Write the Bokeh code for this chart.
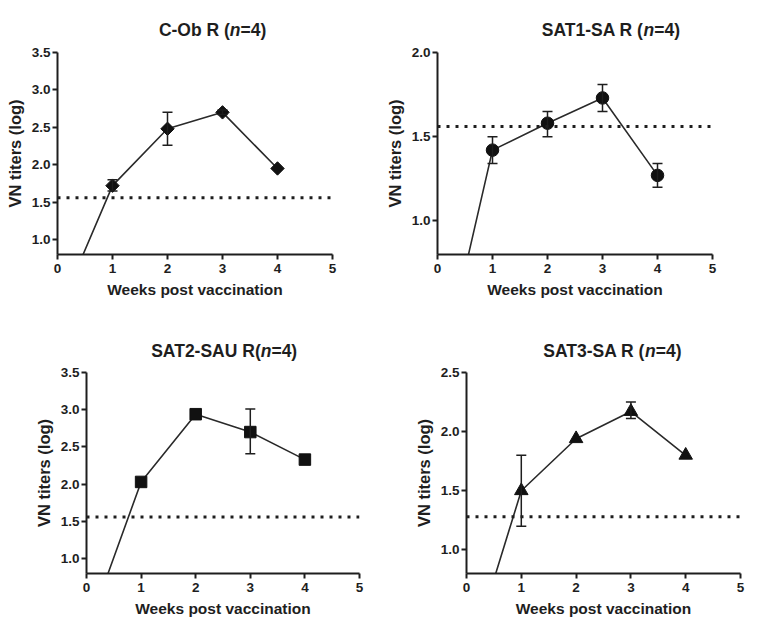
from bokeh.plotting import figure
from bokeh.models import (ColumnDataSource, Whisker, TeeHead, Span, Range1d,
                          PrintfTickFormatter)
from bokeh.core.properties import value
from bokeh.layouts import column, row
from bokeh.embed import file_html
from bokeh.resources import INLINE
import math

# ---------------- data ----------------
weeks = [0, 1, 2, 3, 4]
x_ticks = [0, 1, 2, 3, 4, 5]

cob_titers = [0.0, 1.72, 2.48, 2.70, 1.95]
cob_lower = [None, 1.65, 2.26, 2.67, None]
cob_upper = [None, 1.80, 2.70, 2.73, None]

sat1_titers = [0.0, 1.42, 1.58, 1.73, 1.27]
sat1_lower = [None, 1.34, 1.50, 1.65, 1.20]
sat1_upper = [None, 1.50, 1.65, 1.81, 1.34]

sat2_titers = [0.0, 2.03, 2.94, 2.70, 2.33]
sat2_lower = [None, None, None, 2.41, None]
sat2_upper = [None, None, None, 3.01, None]

sat3_titers = [0.0, 1.50, 1.94, 2.17, 1.80]
sat3_lower = [None, 1.20, None, 2.11, None]
sat3_upper = [None, 1.80, None, 2.25, None]

thresholds = [1.56, 1.56, 1.56, 1.28]
y_bottom = 0.8
y_tops = [3.5, 2.0, 3.5, 2.5]
y_tick_sets = [
    [1.0, 1.5, 2.0, 2.5, 3.0, 3.5],
    [1.0, 1.5, 2.0],
    [1.0, 1.5, 2.0, 2.5, 3.0, 3.5],
    [1.0, 1.5, 2.0, 2.5],
]
title_parts = [
    ("C-Ob R (", "n", "=4)"),
    ("SAT1-SA R (", "n", "=4)"),
    ("SAT2-SAU R(", "n", "=4)"),
    ("SAT3-SA R (", "n", "=4)"),
]
x_label = "Weeks post vaccination"
y_label = "VN titers (log)"

# ---------------- style / layout ----------------
FONT = "Liberation Sans"
INK = "#1e1e1e"
TITLE_SIZE = 17.5
widths = {"S": .667, "A": .722, "T": .611, "-": .333, " ": .278, "R": .722,
          "(": .333, ")": .333, "n": .611, "=": .584, "C": .722, "O": .778,
          "b": .611, "U": .722}
for d in "0123456789":
    widths[d] = .556


def text_w(s):
    return sum(widths.get(c, .6) for c in s) * TITLE_SIZE


# per panel: marker, size, angle, figure width, borders, title centre (x data),
# title strip height, title mid-line (px from strip bottom), main fig height
panels = [
    dict(titers=cob_titers, lower=cob_lower, upper=cob_upper, marker="square",
         size=9.5, angle=math.pi / 4, w=380, l=57, r=48, tc=2.82,
         th=42, ty=12.3, h=266, t=10, b=54),
    dict(titers=sat1_titers, lower=sat1_lower, upper=sat1_upper, marker="circle",
         size=12.5, angle=0, w=380, l=57, r=48, tc=3.14,
         th=42, ty=12.3, h=266, t=10, b=54),
    dict(titers=sat2_titers, lower=sat2_lower, upper=sat2_upper, marker="square",
         size=11.5, angle=0, w=380, l=86, r=21, tc=2.51,
         th=56, ty=13.6, h=269, t=8, b=60),
    dict(titers=sat3_titers, lower=sat3_lower, upper=sat3_upper, marker="triangle",
         size=13.5, angle=0, w=380, l=86, r=20, tc=2.65,
         th=56, ty=13.6, h=269, t=8, b=60),
]

title_figs = []
figs = []
for i, cfg in enumerate(panels):
    # ---- title strip (same horizontal frame as the panel) ----
    tf = figure(width=cfg["w"], height=cfg["th"], output_backend="svg",
                toolbar_location=None, x_range=Range1d(0, 5),
                y_range=Range1d(0, cfg["th"]), x_axis_type=None, y_axis_type=None,
                min_border_left=cfg["l"], min_border_right=cfg["r"],
                min_border_top=0, min_border_bottom=0)
    tf.outline_line_color = None
    tf.border_fill_color = "white"
    tf.background_fill_color = "white"
    pre, mid, post = title_parts[i]
    total = text_w(pre + mid + post)
    anchor = -total / 2 + text_w(pre)
    common = dict(text_baseline="middle", text_font=value(FONT),
                  text_font_size=f"{TITLE_SIZE}px", text_color=INK)
    tf.text(x=[cfg["tc"]], y=[cfg["ty"]], text=[pre], text_align="right",
            x_offset=anchor, text_font_style="bold", **common)
    tf.text(x=[cfg["tc"]], y=[cfg["ty"]], text=[mid], text_align="left",
            x_offset=anchor, text_font_style="bold italic", **common)
    tf.text(x=[cfg["tc"]], y=[cfg["ty"]], text=[post], text_align="left",
            x_offset=anchor + text_w(mid), text_font_style="bold", **common)
    title_figs.append(tf)

    # ---- main panel ----
    p = figure(width=cfg["w"], height=cfg["h"], output_backend="svg",
               toolbar_location=None, x_range=Range1d(0, 5),
               y_range=Range1d(y_bottom, y_tops[i]),
               min_border_left=cfg["l"], min_border_right=cfg["r"],
               min_border_top=cfg["t"], min_border_bottom=cfg["b"])
    p.outline_line_color = None
    p.grid.visible = False
    p.background_fill_color = "white"
    p.border_fill_color = "white"

    p.xaxis.ticker = x_ticks
    p.yaxis.ticker = y_tick_sets[i]
    p.yaxis.formatter = PrintfTickFormatter(format="%.1f")
    for ax in (p.xaxis, p.yaxis):
        ax.axis_line_width = 2
        ax.axis_line_color = INK
        ax.major_tick_line_width = 2
        ax.major_tick_line_color = INK
        ax.major_tick_out = 5
        ax.major_tick_in = 0
        ax.minor_tick_out = 0
        ax.minor_tick_in = 0
        ax.major_label_text_font = FONT
        ax.major_label_text_font_style = "bold"
        ax.major_label_text_font_size = "13.5px"
        ax.major_label_text_color = INK
        ax.axis_label_text_font = FONT
        ax.axis_label_text_font_style = "bold"
        ax.axis_label_text_color = INK
    p.xaxis.axis_label = x_label
    p.yaxis.axis_label = y_label
    p.xaxis.axis_label_text_font_size = "15.5px"
    p.yaxis.axis_label_text_font_size = "16.5px"
    p.xaxis.major_label_standoff = 4
    p.yaxis.major_label_standoff = 2
    p.xaxis.axis_label_standoff = 5
    p.yaxis.axis_label_standoff = 5

    # threshold dotted line
    p.add_layout(Span(location=thresholds[i], dimension="width",
                      line_color=INK, line_width=3, line_dash="3 6"))

    # data line + markers
    src = ColumnDataSource(dict(x=weeks, y=cfg["titers"]))
    p.line("x", "y", source=src, line_color="#2a2a2a", line_width=1.6)

    ex = [w for w, lo in zip(weeks, cfg["lower"]) if lo is not None]
    elo = [lo for lo in cfg["lower"] if lo is not None]
    ehi = [hi for hi in cfg["upper"] if hi is not None]
    esrc = ColumnDataSource(dict(x=ex, lower=elo, upper=ehi))
    p.add_layout(Whisker(source=esrc, base="x", lower="lower", upper="upper",
                         line_color=INK, line_width=1.5, level="glyph",
                         upper_head=TeeHead(size=10, line_color=INK, line_width=1.5),
                         lower_head=TeeHead(size=10, line_color=INK, line_width=1.5)))

    p.scatter("x", "y", source=src, marker=cfg["marker"], size=cfg["size"],
              angle=cfg["angle"], fill_color="#111111", line_color="#111111")
    figs.append(p)

layout = column(row(title_figs[0], title_figs[1]), row(figs[0], figs[1]),
                row(title_figs[2], title_figs[3]), row(figs[2], figs[3]))
open("out.html", "w").write(file_html(layout, INLINE))
